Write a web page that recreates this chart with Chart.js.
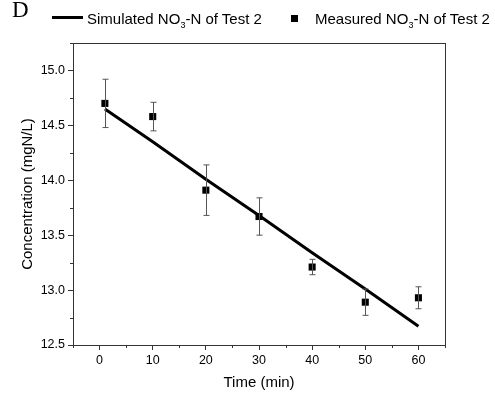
<!DOCTYPE html>
<html>
<head>
<meta charset="utf-8">
<script src="https://cdn.jsdelivr.net/npm/chart.js@4/dist/chart.umd.min.js"></script>
<style>
  html, body { margin: 0; padding: 0; background: #fff; }
  #wrap { position: relative; width: 495px; height: 398px; }
  #legend { position: absolute; left: 0; top: 0; width: 495px; height: 40px; font-family: "Liberation Sans", Arial, sans-serif; font-size: 15px; color: #000; }
  #legend span { position: absolute; white-space: nowrap; }
  .panel { font-family: "Liberation Serif", "Times New Roman", serif; font-size: 23px !important; left: 12px; top: -3px; }
  .lline { position: absolute; left: 52px; top: 16px; width: 31px; height: 3px; background: #000; }
  .lsq { position: absolute; left: 291px; top: 15px; width: 7px; height: 7px; background: #000; }
  sub { font-size: 9px; vertical-align: -4px; line-height: 0; }
</style>
</head>
<body>
<div id="wrap">
  <canvas id="chart" width="495" height="398"></canvas>
  <div id="legend">
    <span class="panel">D</span>
    <div class="lline"></div>
    <span style="left:87px; top:10px;">Simulated NO<sub>3</sub>-N of Test 2</span>
    <div class="lsq"></div>
    <span style="left:315px; top:10px;">Measured NO<sub>3</sub>-N of Test 2</span>
  </div>
</div>
<script>
// measured points (time in min, NO3-N in mg N/L) with error bars
const measTime = [1, 10, 20, 30, 40, 50, 60];
const measValues = [14.70, 14.58, 13.91, 13.67, 13.21, 12.89, 12.93];
const measErr = [0.22, 0.13, 0.23, 0.17, 0.07, 0.12, 0.10];

// simulated line
const simTime = [1, 10, 20, 30, 40, 50, 60];
const simValues = [14.65, 14.35, 14.01, 13.68, 13.34, 13.01, 12.67];

// axis ticks
const xTicks = [0, 10, 20, 30, 40, 50, 60];
const xMinor = [-5, 5, 15, 25, 35, 45, 55, 65];
const yTicks = [12.5, 13.0, 13.5, 14.0, 14.5, 15.0];
const yMinor = [12.75, 13.25, 13.75, 14.25, 14.75, 15.25];

const axisColor = "#333";

const frameAndExtras = {
  id: "frameAndExtras",
  afterDatasetsDraw(chart) {
    const { ctx, chartArea: a, scales: { x, y } } = chart;
    ctx.save();
    // error bars
    ctx.strokeStyle = "#555";
    ctx.lineWidth = 1;
    measTime.forEach((t, i) => {
      const px = Math.round(x.getPixelForValue(t)) + 0.5;
      const top = y.getPixelForValue(measValues[i] + measErr[i]);
      const bot = y.getPixelForValue(measValues[i] - measErr[i]);
      ctx.beginPath();
      ctx.moveTo(px, top); ctx.lineTo(px, bot);
      ctx.moveTo(px - 3, top); ctx.lineTo(px + 3, top);
      ctx.moveTo(px - 3, bot); ctx.lineTo(px + 3, bot);
      ctx.stroke();
    });
    // frame
    ctx.strokeStyle = axisColor;
    ctx.strokeRect(Math.round(a.left) + 0.5, Math.round(a.top) + 0.5, Math.round(a.right - a.left), Math.round(a.bottom - a.top));
    // minor ticks
    ctx.beginPath();
    xMinor.forEach(v => {
      const px = Math.round(x.getPixelForValue(v)) + 0.5;
      ctx.moveTo(px, a.bottom); ctx.lineTo(px, a.bottom + 3);
    });
    yMinor.forEach(v => {
      const py = Math.round(y.getPixelForValue(v)) + 0.5;
      ctx.moveTo(a.left, py); ctx.lineTo(a.left - 3, py);
    });
    ctx.stroke();
    ctx.restore();
  }
};

new Chart(document.getElementById("chart"), {
  data: {
    datasets: [
      {
        type: "line",
        label: "Simulated",
        data: simTime.map((t, i) => ({ x: t, y: simValues[i] })),
        borderColor: "#000",
        borderWidth: 3,
        pointRadius: 0,
        tension: 0
      },
      {
        type: "scatter",
        label: "Measured",
        data: measTime.map((t, i) => ({ x: t, y: measValues[i] })),
        pointStyle: "rect",
        pointRadius: 5,
        backgroundColor: "#000",
        borderColor: "#000",
        borderWidth: 0
      }
    ]
  },
  options: {
    responsive: false,
    animation: false,
    events: [],
    layout: { padding: { left: 0, right: 50, top: 43, bottom: 0 } },
    plugins: { legend: { display: false }, tooltip: { enabled: false } },
    scales: {
      x: {
        type: "linear",
        min: -5,
        max: 65,
        afterBuildTicks: s => { s.ticks = xTicks.map(v => ({ value: v })); },
        afterFit: s => { s.height = 53; },
        grid: { drawOnChartArea: false, tickLength: 5, color: axisColor },
        border: { color: axisColor },
        ticks: { color: "#000", font: { family: "Liberation Sans", size: 12.5 }, padding: 3, maxRotation: 0 },
        title: { display: true, text: "Time (min)", color: "#000", font: { family: "Liberation Sans", size: 15 }, padding: { top: 2, bottom: 6 } }
      },
      y: {
        min: 12.5,
        max: 15.25,
        afterBuildTicks: s => { s.ticks = yTicks.map(v => ({ value: v })); },
        afterFit: s => { s.width = 73; },
        grid: { drawOnChartArea: false, tickLength: 5, color: axisColor },
        border: { color: axisColor },
        ticks: { color: "#000", font: { family: "Liberation Sans", size: 12.5 }, padding: 3, callback: v => Number(v).toFixed(1) },
        title: { display: true, text: "Concentration (mgN/L)", color: "#000", font: { family: "Liberation Sans", size: 15 }, padding: { top: 19, bottom: 0 } }
      }
    }
  },
  plugins: [frameAndExtras]
});
</script>
</body>
</html>
